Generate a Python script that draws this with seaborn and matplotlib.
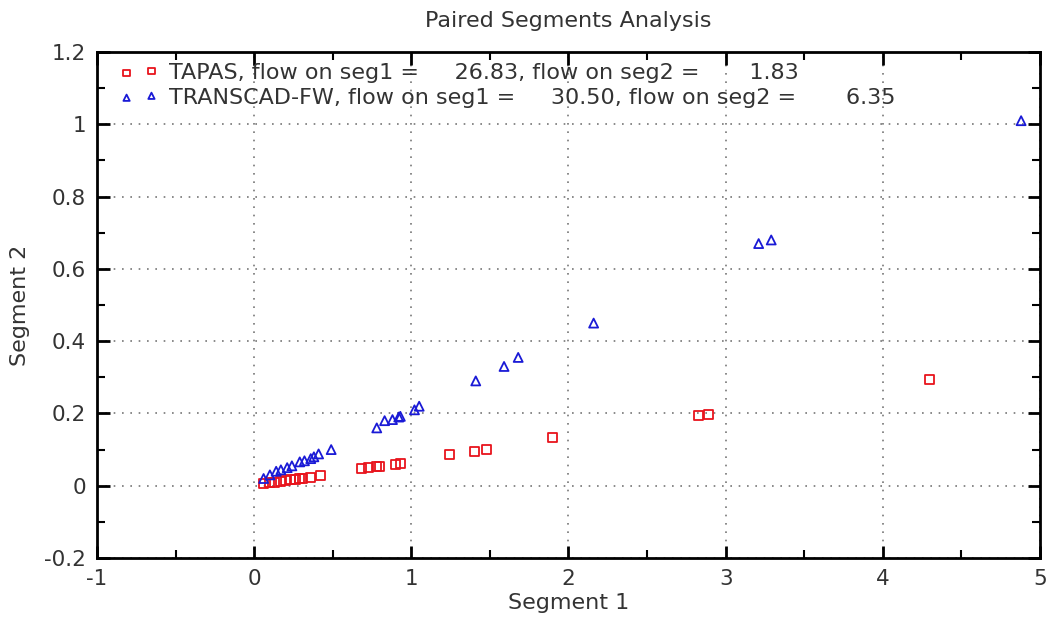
import matplotlib
matplotlib.use("Agg")
import matplotlib.pyplot as plt
import seaborn as sns
import pandas as pd
from matplotlib.ticker import MultipleLocator

# ---- data ----
tapas_x = [0.06, 0.10, 0.13, 0.17, 0.20, 0.23, 0.26, 0.29, 0.31, 0.36, 0.42,
           0.68, 0.73, 0.78, 0.80, 0.90, 0.93,
           1.24, 1.40, 1.48, 1.90, 2.83, 2.89, 4.30]
tapas_y = [0.005, 0.008, 0.010, 0.012, 0.014, 0.016, 0.018, 0.019, 0.020, 0.024, 0.028,
           0.047, 0.050, 0.052, 0.053, 0.060, 0.061,
           0.086, 0.094, 0.100, 0.133, 0.194, 0.197, 0.294]

transcad_x = [0.06, 0.10, 0.14, 0.17, 0.21, 0.24, 0.29, 0.32, 0.36, 0.38, 0.41, 0.49,
              0.78, 0.83, 0.88, 0.92, 0.93, 1.02, 1.05,
              1.41, 1.59, 1.68, 2.16, 3.21, 3.29, 4.88]
transcad_y = [0.020, 0.030, 0.040, 0.044, 0.050, 0.055, 0.066, 0.069, 0.075, 0.080, 0.088, 0.100,
              0.160, 0.180, 0.183, 0.190, 0.192, 0.210, 0.220,
              0.290, 0.330, 0.355, 0.450, 0.670, 0.680, 1.010]

tapas_label = "TAPAS, flow on seg1 =     26.83, flow on seg2 =       1.83"
transcad_label = "TRANSCAD-FW, flow on seg1 =     30.50, flow on seg2 =       6.35"

x_ticks = [-1, 0, 1, 2, 3, 4, 5]
y_ticks = [-0.2, 0, 0.2, 0.4, 0.6, 0.8, 1, 1.2]

sns.set_theme(style="white")
plt.rcParams['font.family'] = ['DejaVu Sans']
text_color = "#333333"

fig = plt.figure(figsize=(10.51, 6.17), dpi=100)
ax = fig.add_axes([0.0923, 0.0956, 0.8972, 0.8201])

df_t = pd.DataFrame({"x": tapas_x, "y": tapas_y})
df_c = pd.DataFrame({"x": transcad_x, "y": transcad_y})

sns.scatterplot(data=df_t, x="x", y="y", ax=ax, marker="s", s=42,
                facecolor="none", edgecolor="#e8141c", linewidth=1.3, label=tapas_label)
sns.scatterplot(data=df_c, x="x", y="y", ax=ax, marker="^", s=42,
                facecolor="none", edgecolor="#1a1ad6", linewidth=1.3, label=transcad_label)

ax.set_xlim(-1, 5)
ax.set_ylim(-0.2, 1.2)
ax.set_xticks(x_ticks)
ax.set_xticklabels([f"{v:g}" for v in x_ticks])
ax.set_yticks(y_ticks)
ax.set_yticklabels([f"{v:g}" for v in y_ticks])
ax.xaxis.set_minor_locator(MultipleLocator(0.5))
ax.yaxis.set_minor_locator(MultipleLocator(0.1))

ax.tick_params(which="both", direction="in", top=True, right=True,
               bottom=True, left=True, colors="black", labelcolor=text_color,
               labelsize=15.5)
ax.tick_params(which="major", length=9, width=2)
ax.tick_params(which="minor", length=6, width=1.5)
ax.tick_params(axis="y", which="major", pad=8)
ax.tick_params(axis="x", which="major", pad=8)

ax.grid(True, which="major", linestyle=(0, (1, 4)), color="#777777", linewidth=1.2)
for sp in ax.spines.values():
    sp.set_color("black")
    sp.set_linewidth(2)

ax.set_xlabel("Segment 1", fontsize=16, color=text_color, labelpad=3)
ax.set_ylabel("Segment 2", fontsize=16, color=text_color, labelpad=10)
ax.set_title("Paired Segments Analysis", fontsize=16, color=text_color, pad=18)

leg = ax.legend(loc="upper left", frameon=False, scatterpoints=2, fontsize=16,
                handletextpad=0.5, borderaxespad=0.1, labelspacing=0.2,
                handlelength=1.72, markerscale=0.7, bbox_to_anchor=(0.0125, 1.0))
for t in leg.get_texts():
    t.set_color(text_color)

fig.savefig("out.png", dpi=100)
